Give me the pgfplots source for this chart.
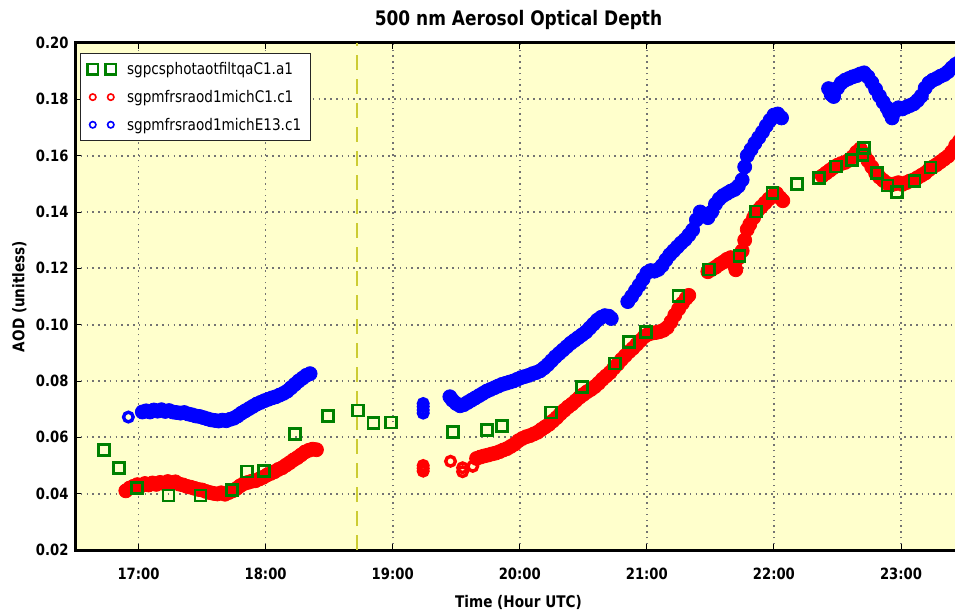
\documentclass[border=0pt]{standalone}
\usepackage{pgfplots}
\pgfplotsset{compat=1.18}
\usepackage{fontspec}
\setmainfont{DejaVu Sans}[FakeStretch=0.85]

\definecolor{bgyellow}{RGB}{255,255,204}
\definecolor{mplgreen}{RGB}{0,128,0}
\definecolor{dashyellow}{RGB}{204,204,51}

\pgfplotsset{
  dense/.style={only marks, mark=*, mark size=7pt, mark options={line width=0.8pt, draw=#1, fill=#1}, forget plot},
  ring/.style={only marks, mark=o, mark size=4.8pt, #1, mark options={line width=3.4pt}, forget plot},
}

\begin{document}
\begin{tikzpicture}[x=1pt,y=1pt]
\useasboundingbox (0,0) rectangle (955,613);
\begin{axis}[
  at={(75pt,63pt)}, anchor=south west,
  scale only axis, width=887pt, height=507pt,
  xmin=16.5, xmax=23.48, ymin=0.02, ymax=0.20,
  axis background/.style={fill=bgyellow},
  axis line style={line width=3pt, black},
  xtick={17,18,19,20,21,22,23},
  xticklabels={17:00,18:00,19:00,20:00,21:00,22:00,23:00},
  ytick={0.02,0.04,0.06,0.08,0.10,0.12,0.14,0.16,0.18,0.20},
  yticklabels={0.02,0.04,0.06,0.08,0.10,0.12,0.14,0.16,0.18,0.20},
  ytick pos=left,
  tick align=inside, major tick length=6pt,
  tick style={black, line width=0.9pt},
  grid=major,
  major grid style={black!55, line width=1.7pt, dash pattern=on 1.5pt off 4.3pt},
  ticklabel style={font=\bfseries\fontsize{15.5}{15.5}\selectfont},
  xticklabel style={yshift=-14pt},
  yticklabel style={xshift=-3pt},
  title={500 nm Aerosol Optical Depth},
  title style={font=\bfseries\fontsize{20}{20}\selectfont, at={(0.5,1)}, anchor=base, yshift=11pt},
  xlabel={Time (Hour UTC)},
  every axis x label/.style={at={(axis description cs:0.5,0)}, anchor=base, yshift=-57pt,
    font=\bfseries\fontsize{16}{16}\selectfont},
  ylabel={AOD (unitless)},
  every axis y label/.style={at={(axis description cs:-0.057,0.5)}, rotate=90, anchor=base,
    font=\bfseries\fontsize{16}{16}\selectfont},
  legend cell align=left,
  legend style={at={(0.0056,0.98)}, anchor=north west, fill=white, draw=black!85,
    line width=1pt, font=\fontsize{16}{16}\selectfont, row sep=10pt,
    inner xsep=7pt, inner ysep=7pt,
    /tikz/every odd column/.style={column sep=9pt}},
  legend image code/.code={\draw[#1, only marks] plot coordinates {(0pt,0pt) (18pt,0pt)};},
]
% legend entries (instrument streams)
\addlegendimage{only marks, mark=square, mark size=5.3pt, mplgreen, mark options={line width=2.6pt}}
\addlegendentry{sgpcsphotaotfiltqaC1.a1}
\addlegendimage{only marks, mark=o, mark size=3.2pt, red, mark options={line width=1.6pt}}
\addlegendentry{sgpmfrsraod1michC1.c1}
\addlegendimage{only marks, mark=o, mark size=3.2pt, blue, mark options={line width=1.6pt}}
\addlegendentry{sgpmfrsraod1michE13.c1}

% vertical marker line
\addplot[dashyellow, line width=2pt, dash pattern=on 15pt off 9pt, forget plot]
  coordinates {(18.72,0.02) (18.72,0.20)};

% MFRSR C1: scattered retrievals
\addplot[ring=red] coordinates {
(19.24,0.0480)(19.24,0.0490)(19.24,0.0500)
(19.455,0.0515)(19.55,0.0478)(19.55,0.0492)(19.63,0.0497)
};
% MFRSR C1: continuous retrievals
\addplot[dense=red] coordinates {
(16.90,0.0410)(16.93,0.0420)(16.96,0.0426)(16.99,0.0432)(17.02,0.0428)(17.05,0.0436)(17.08,0.0431)(17.11,0.0438)
(17.14,0.0433)(17.17,0.0440)(17.20,0.0436)(17.23,0.0443)(17.26,0.0438)(17.29,0.0442)(17.32,0.0434)(17.35,0.0431)
(17.38,0.0426)(17.41,0.0423)(17.44,0.0419)(17.47,0.0415)(17.50,0.0413)(17.53,0.0408)(17.56,0.0404)(17.59,0.0401)
(17.62,0.0399)(17.65,0.0403)(17.68,0.0398)(17.71,0.0404)(17.74,0.0410)(17.77,0.0418)(17.80,0.0428)(17.83,0.0436)
(17.86,0.0440)(17.89,0.0444)(17.92,0.0446)(17.95,0.0452)(17.98,0.0458)(18.01,0.0466)(18.04,0.0472)(18.07,0.0478)
(18.10,0.0486)(18.13,0.0492)(18.16,0.0501)(18.19,0.0510)(18.22,0.0520)(18.25,0.0528)(18.28,0.0538)(18.31,0.0548)
(18.34,0.0554)(18.37,0.0558)(18.40,0.0556)
(19.66,0.0525)(19.69,0.0530)(19.72,0.0534)(19.75,0.0537)(19.78,0.0541)(19.81,0.0544)(19.84,0.0549)(19.87,0.0555)
(19.90,0.0560)(19.93,0.0568)(19.96,0.0576)(19.99,0.0588)(20.02,0.0596)(20.05,0.0602)(20.08,0.0606)(20.11,0.0612)
(20.14,0.0618)(20.17,0.0628)(20.20,0.0637)(20.23,0.0646)(20.26,0.0658)(20.29,0.0670)(20.32,0.0684)(20.35,0.0696)
(20.38,0.0708)(20.41,0.0718)(20.44,0.0730)(20.47,0.0742)(20.50,0.0752)(20.53,0.0762)(20.56,0.0770)(20.59,0.0780)
(20.62,0.0792)(20.65,0.0806)(20.68,0.0818)(20.71,0.0830)(20.74,0.0846)(20.77,0.0860)(20.80,0.0876)(20.83,0.0890)
(20.86,0.0904)(20.89,0.0916)(20.92,0.0930)(20.95,0.0944)(20.98,0.0958)(21.01,0.0966)(21.04,0.0970)(21.07,0.0972)
(21.10,0.0975)(21.13,0.0980)(21.16,0.0990)(21.19,0.1010)(21.22,0.1034)(21.25,0.1056)(21.28,0.1076)(21.31,0.1094)
(21.33,0.1104)
(21.48,0.1188)(21.51,0.1196)(21.54,0.1204)(21.57,0.1214)(21.60,0.1222)(21.63,0.1232)(21.66,0.1238)(21.69,0.1210)
(21.70,0.1195)(21.72,0.1236)(21.75,0.1262)(21.77,0.1300)(21.79,0.1338)(21.81,0.1356)(21.84,0.1380)(21.87,0.1404)
(21.90,0.1418)(21.93,0.1432)(21.96,0.1446)(21.99,0.1458)(22.02,0.1466)(22.05,0.1450)(22.07,0.1440)
(22.38,0.1528)(22.41,0.1538)(22.44,0.1548)(22.47,0.1558)(22.50,0.1566)(22.53,0.1572)(22.56,0.1576)(22.59,0.1584)
(22.62,0.1596)(22.65,0.1612)(22.68,0.1624)(22.71,0.1606)(22.74,0.1582)(22.77,0.1560)(22.80,0.1538)(22.83,0.1524)
(22.86,0.1512)(22.89,0.1502)(22.92,0.1496)(22.95,0.1500)(22.98,0.1504)(23.01,0.1498)(23.04,0.1504)(23.07,0.1510)
(23.10,0.1514)(23.13,0.1522)(23.16,0.1530)(23.19,0.1538)(23.22,0.1550)(23.25,0.1560)(23.28,0.1568)(23.31,0.1578)
(23.34,0.1588)(23.37,0.1598)(23.40,0.1614)(23.43,0.1636)(23.46,0.1652)
};

% MFRSR E13: scattered retrievals
\addplot[ring=blue] coordinates {
(16.92,0.0672)
(19.24,0.0686)(19.24,0.0697)(19.24,0.0709)(19.24,0.0720)
};
% MFRSR E13: continuous retrievals
\addplot[dense=blue] coordinates {
(17.03,0.0690)(17.06,0.0694)(17.09,0.0690)(17.12,0.0697)(17.15,0.0693)(17.18,0.0698)(17.21,0.0692)(17.24,0.0695)
(17.27,0.0690)(17.30,0.0688)(17.33,0.0686)(17.36,0.0688)(17.39,0.0683)(17.42,0.0680)(17.45,0.0676)(17.48,0.0674)
(17.51,0.0670)(17.54,0.0666)(17.57,0.0662)(17.60,0.0660)(17.63,0.0658)(17.66,0.0661)(17.69,0.0659)(17.72,0.0664)
(17.75,0.0668)(17.78,0.0676)(17.81,0.0686)(17.84,0.0694)(17.87,0.0702)(17.90,0.0710)(17.93,0.0718)(17.96,0.0724)
(17.99,0.0730)(18.02,0.0735)(18.05,0.0740)(18.08,0.0744)(18.11,0.0750)(18.14,0.0756)(18.17,0.0764)(18.20,0.0776)
(18.23,0.0788)(18.26,0.0800)(18.29,0.0810)(18.32,0.0820)(18.35,0.0826)
(19.45,0.0744)(19.47,0.0732)(19.50,0.0720)(19.53,0.0712)(19.56,0.0716)(19.59,0.0724)(19.62,0.0732)(19.65,0.0740)
(19.68,0.0748)(19.71,0.0756)(19.74,0.0764)(19.77,0.0770)(19.80,0.0776)(19.83,0.0782)(19.86,0.0788)(19.89,0.0792)
(19.92,0.0796)(19.95,0.0800)(19.98,0.0806)(20.01,0.0812)(20.04,0.0816)(20.07,0.0820)(20.10,0.0826)(20.13,0.0830)
(20.16,0.0836)(20.19,0.0846)(20.22,0.0858)(20.25,0.0872)(20.28,0.0886)(20.31,0.0898)(20.34,0.0910)(20.37,0.0922)
(20.40,0.0934)(20.43,0.0944)(20.46,0.0954)(20.49,0.0964)(20.52,0.0974)(20.55,0.0988)(20.58,0.1002)(20.61,0.1016)
(20.64,0.1026)(20.67,0.1032)(20.70,0.1030)(20.72,0.1022)
(20.85,0.1082)(20.88,0.1100)(20.91,0.1120)(20.94,0.1140)(20.97,0.1162)(21.00,0.1184)(21.03,0.1192)(21.06,0.1190)
(21.09,0.1196)(21.12,0.1210)(21.15,0.1230)(21.18,0.1248)(21.21,0.1262)(21.24,0.1276)(21.27,0.1290)(21.30,0.1302)
(21.33,0.1318)(21.36,0.1336)(21.39,0.1372)(21.42,0.1400)(21.45,0.1392)(21.48,0.1380)(21.51,0.1400)(21.54,0.1428)
(21.57,0.1446)(21.60,0.1458)(21.63,0.1466)(21.66,0.1474)(21.69,0.1480)(21.72,0.1492)(21.75,0.1514)(21.77,0.1560)
(21.79,0.1600)(21.82,0.1622)(21.85,0.1644)(21.88,0.1664)(21.91,0.1684)(21.94,0.1706)(21.97,0.1726)(22.00,0.1744)
(22.03,0.1748)(22.06,0.1734)
(22.43,0.1838)(22.45,0.1818)(22.47,0.1810)(22.50,0.1840)(22.53,0.1858)(22.56,0.1868)(22.59,0.1874)(22.62,0.1880)
(22.65,0.1884)(22.68,0.1890)(22.71,0.1894)(22.74,0.1880)(22.77,0.1860)(22.80,0.1836)(22.83,0.1812)(22.86,0.1790)
(22.89,0.1770)(22.91,0.1752)(22.93,0.1734)(22.95,0.1756)(22.98,0.1770)(23.01,0.1766)(23.04,0.1772)(23.07,0.1778)
(23.10,0.1784)(23.13,0.1796)(23.16,0.1812)(23.19,0.1840)(23.22,0.1858)(23.25,0.1868)(23.28,0.1874)(23.31,0.1882)
(23.34,0.1888)(23.37,0.1898)(23.40,0.1912)(23.43,0.1924)(23.46,0.1932)
};

% Cimel sun photometer
\addplot[only marks, mark=square, mark size=5.5pt, mplgreen, mark options={line width=2.7pt}, forget plot] coordinates {
(16.728,0.0554)(16.847,0.0491)(16.990,0.0421)(17.235,0.0394)(17.488,0.0394)(17.736,0.0414)(17.855,0.0479)
(17.989,0.0480)(18.230,0.0611)(18.490,0.0675)(18.728,0.0695)(18.849,0.0651)(18.987,0.0653)(19.476,0.0619)
(19.741,0.0625)(19.860,0.0639)(20.244,0.0688)(20.488,0.0779)(20.748,0.0862)(20.861,0.0938)(20.992,0.0973)
(21.249,0.1102)(21.490,0.1196)(21.730,0.1244)(21.857,0.1402)(21.989,0.1467)(22.180,0.1499)(22.352,0.1520)
(22.489,0.1561)(22.616,0.1585)(22.696,0.1602)(22.709,0.1626)(22.810,0.1538)(22.894,0.1494)(22.968,0.1470)
(23.106,0.1511)(23.233,0.1558)
};
\end{axis}
\end{tikzpicture}
\end{document}
